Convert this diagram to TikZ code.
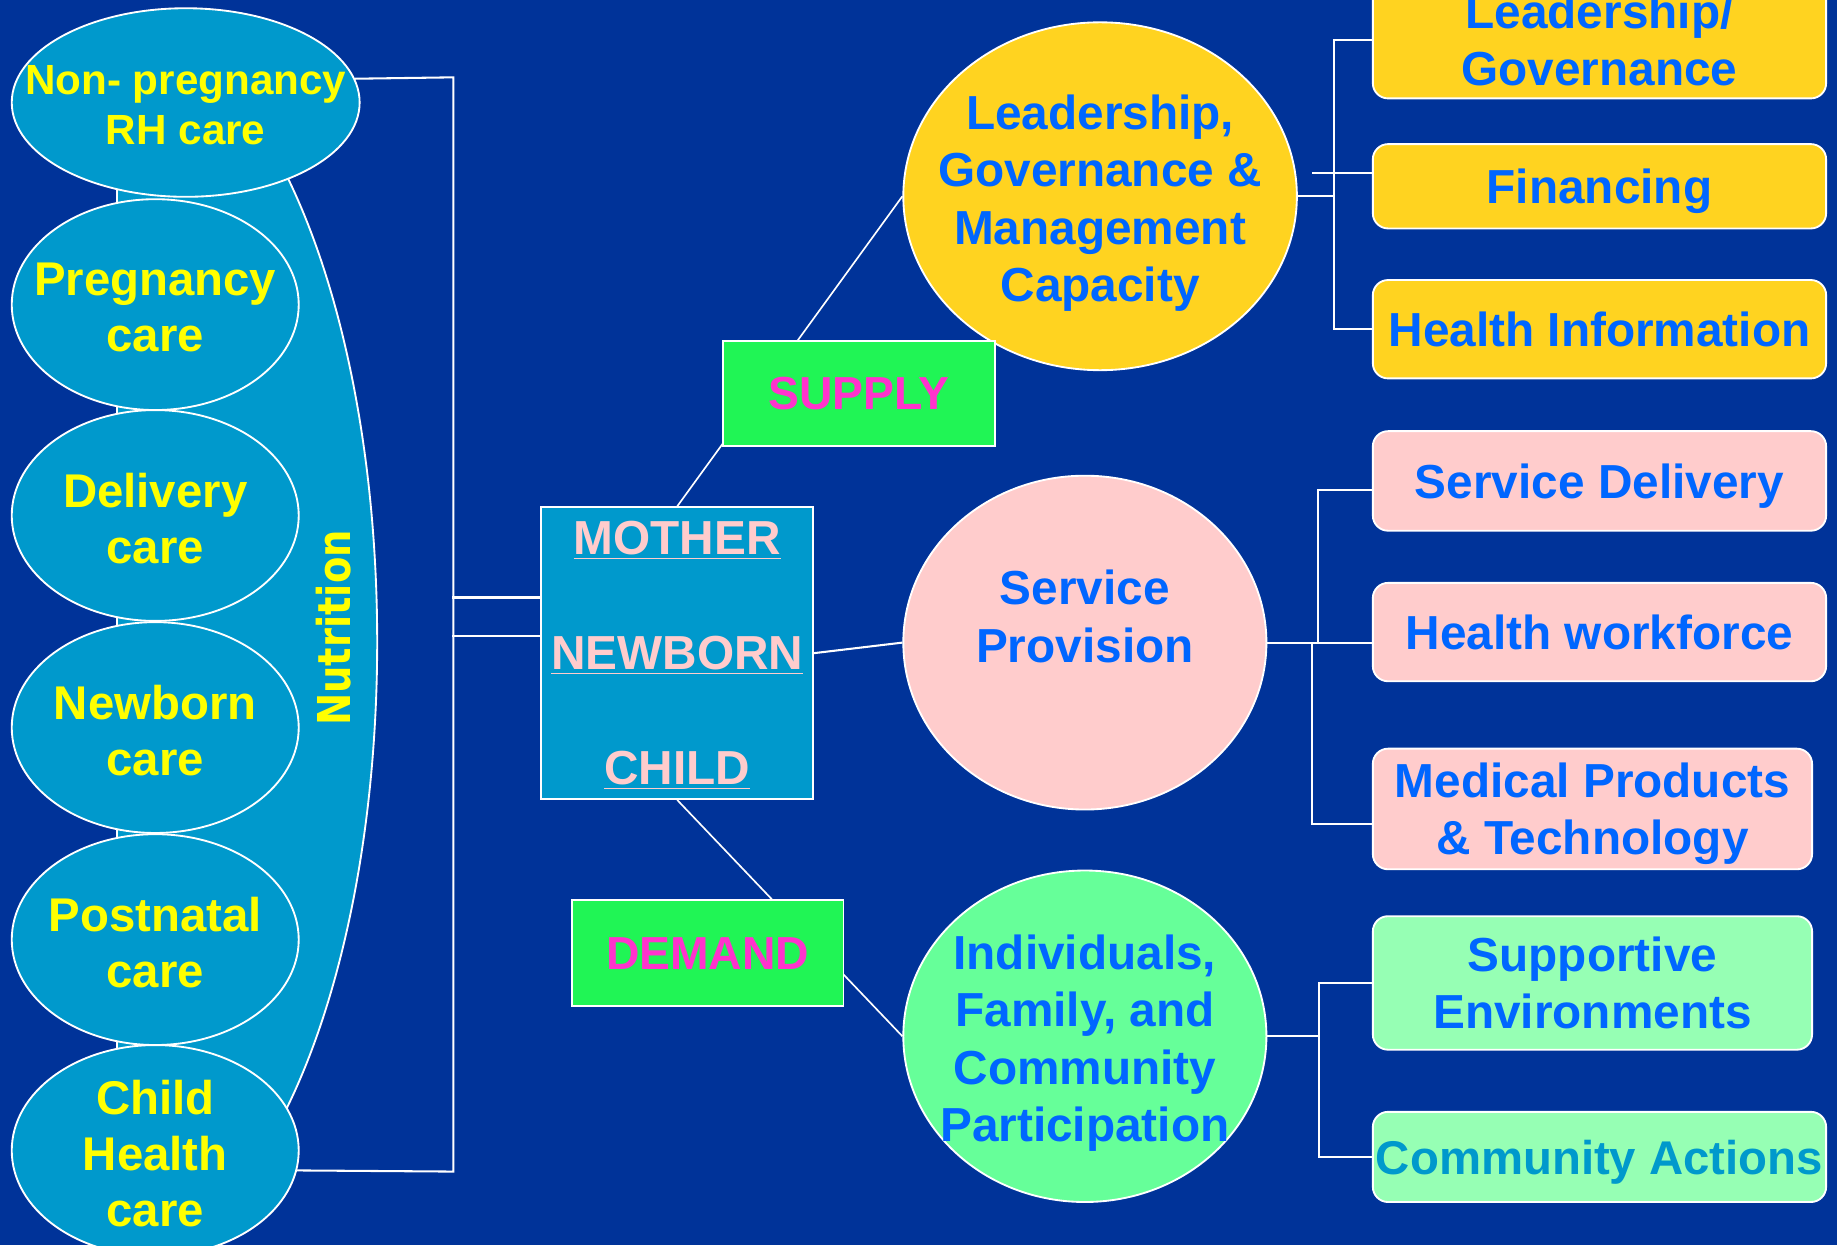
\documentclass[tikz,border=0pt]{standalone}
\usepackage{fontspec}
\setmainfont{Liberation Sans}
\newfontfamily\nutfont{DejaVu Sans}
\usetikzlibrary{shapes.geometric}
\definecolor{bgblue}{RGB}{0,51,153}
\definecolor{skyblue}{RGB}{0,153,204}
\definecolor{txtyellow}{RGB}{255,255,0}
\definecolor{gold}{RGB}{255,211,32}
\definecolor{pinkish}{RGB}{255,204,204}
\definecolor{mint}{RGB}{102,255,153}
\definecolor{lightmint}{RGB}{150,255,180}
\definecolor{brightgreen}{RGB}{32,245,85}
\definecolor{txtblue}{RGB}{0,102,255}
\definecolor{txtmagenta}{RGB}{255,51,204}

\begin{document}
\begin{tikzpicture}[x=0.02cm, y=-0.02cm,
  link/.style={white, line width=1pt},
  careell/.style={ellipse, draw=white, line width=0.9pt, fill=skyblue, inner sep=0pt,
    minimum width=4.9cm, minimum height=3.6cm},
  caretxt/.style={text=txtyellow, align=center, yshift=-0.05cm, font=\bfseries\fontsize{23}{27.3}\selectfont},
  bigell/.style={ellipse, draw=white, line width=0.9pt, inner sep=0pt},
  bigtxt/.style={text=txtblue, align=center, yshift=-0.12cm, font=\bfseries\fontsize{23.2}{27.9}\selectfont},
  sysbox/.style={rectangle, rounded corners=0.26cm, draw=white, line width=0.9pt, inner sep=0pt,
    anchor=west, minimum width=7.74cm, text=txtblue, align=center, text depth=0pt,
    font=\bfseries\fontsize{23.2}{27.9}\selectfont},
  tagbox/.style={rectangle, draw=white, line width=0.9pt, fill=brightgreen, inner sep=0pt,
    minimum width=4.64cm, minimum height=1.8cm, text=txtmagenta,
    font=\bfseries\fontsize{22.5}{27}\selectfont}]
\useasboundingbox (0,0) rectangle (1568,1063);
\clip (0,0) rectangle (1568,1063);
\fill[bgblue] (0,0) rectangle (1568,1063);

\begin{scope}
\clip (100,0) rectangle (400,1100);
\filldraw[fill=skyblue, draw=white, line width=0.9pt] (100,548) ellipse [x radius=4.44cm, y radius=10.5cm];
\end{scope}
\draw[white, line width=0.9pt] (100,40) -- (100,1070);
\node[rotate=90, text=txtyellow, font=\nutfont\bfseries\fontsize{22}{26}\selectfont] (nutri) at (285,536) {\scalebox{0.85}[1]{Nutrition}};

\node[careell, minimum width=5.94cm, minimum height=3.22cm] (np) at (158.5,87.5) {};
\node[caretxt, font=\bfseries\fontsize{20.5}{24.5}\selectfont] (np-t) at (np) {Non- pregnancy\\RH care};
\node[careell] (pc) at (132.5,260) {};
\node[caretxt] (pc-t) at (pc) {Pregnancy\\care};
\node[careell] (dc) at (132.5,440) {};
\node[caretxt] (dc-t) at (dc) {Delivery\\care};
\node[careell] (nc) at (132.5,621) {};
\node[caretxt] (nc-t) at (nc) {Newborn\\care};
\node[careell] (pn) at (132.5,802) {};
\node[caretxt] (pn-t) at (pn) {Postnatal\\care};
\node[careell] (ch) at (132.5,982) {};
\node[caretxt] (ch-t) at (ch) {Child\\Health\\care};

\node[draw=white, line width=0.9pt, fill=skyblue, inner sep=0pt, minimum width=4.64cm, minimum height=4.98cm,
  text=pinkish, align=center, text depth=0pt, font=\bfseries\fontsize{23.2}{27.9}\selectfont] (mnc) at (578,557.5)
  {\underline{MOTHER}\\[27.9pt]\underline{NEWBORN}\\[27.9pt]\underline{CHILD}};

\node[bigell, fill=gold, minimum width=6.72cm, minimum height=5.94cm] (lgm) at (939,167.5) {};
\node[bigtxt] (lgm-t) at (lgm) {Leadership,\\Governance \&\\Management\\Capacity};
\node[bigell, fill=pinkish, minimum width=6.2cm, minimum height=5.7cm] (sp) at (926,548.5) {};
\node[bigtxt] (sp-t) at (926,520) {Service\\Provision};
\node[bigell, fill=mint, minimum width=6.2cm, minimum height=5.66cm] (ifc) at (926,884.5) {};
\node[bigtxt] (ifc-t) at (ifc) {Individuals,\\Family, and\\Community\\Participation};

\node[sysbox, fill=gold, minimum height=2cm] (lg) at (1171,34) {Leadership/\\Governance};
\node[sysbox, fill=gold, minimum height=1.44cm] (fin) at (1171,159) {Financing};
\node[sysbox, fill=gold, minimum height=1.68cm] (hi) at (1171,281) {Health Information};
\node[sysbox, fill=pinkish, minimum height=1.7cm] (sd) at (1171,410.5) {Service Delivery};
\node[sysbox, fill=pinkish, minimum height=1.68cm] (hw) at (1171,539.5) {Health workforce};
\node[sysbox, fill=pinkish, minimum width=7.5cm, minimum height=2.06cm] (mp) at (1171,690.5) {Medical Products\\\& Technology};
\node[sysbox, fill=lightmint, minimum width=7.5cm, minimum height=2.28cm] (se) at (1171,839) {Supportive\\Environments};
\node[sysbox, fill=lightmint, minimum height=1.54cm, text=skyblue,
  font=\bfseries\fontsize{23}{27}\selectfont] (ca) at (1171,987.5) {Community Actions};

\coordinate (lbtop) at (387,66);
\coordinate (lbbot) at (387,1000);
\draw[link] (np.8) -- (lbtop) -- (lbbot) -- (ch.-8);
\draw[link] ([yshift=0.95cm]mnc.west) -- ++(-75,0);
\draw[link] ([yshift=0.29cm]mnc.west) -- ++(-75,0);

\draw[link, line width=0.8pt] (mnc.north) -- (lgm.west);
\draw[link] (mnc.east) -- (sp.west);
\draw[link, line width=0.8pt] (mnc.south) -- (ifc.west);

\coordinate (ybus) at (1139,167.5);
\draw[link] (lgm.east) -- (ybus);
\draw[link] (lg.west) -| (ybus) |- (hi.west);
\draw[link] ([yshift=0.22cm]fin.west) -- ++(-51,0);

\coordinate (pbus) at (1125,548.5);
\coordinate (pbus2) at (1120,548.5);
\draw[link] (sp.east) -- (sp.east -| hw.west);
\draw[link] (pbus) |- ([yshift=-0.16cm]sd.west);
\draw[link] (pbus2) |- ([yshift=-0.25cm]mp.west);

\coordinate (gbus) at (1126,884.5);
\draw[link] (ifc.east) -- (gbus);
\draw[link] (se.west) -| (gbus) |- (ca.west);

\node[tagbox] (supply) at (733,336) {SUPPLY};
\node[tagbox] (demand) at (604,813.5) {DEMAND};
\end{tikzpicture}
\end{document}
